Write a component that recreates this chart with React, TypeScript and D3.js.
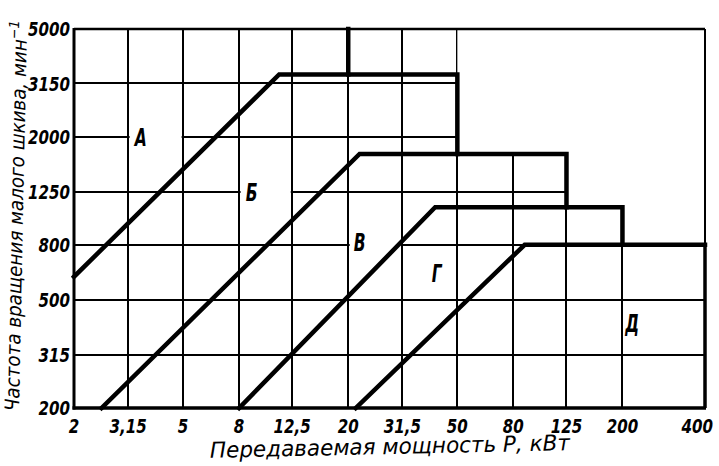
import React from "react";
import * as d3 from "d3";

// X axis: transmitted power P, kW (log scale)
const xTicks = [2, 3.15, 5, 8, 12.5, 20, 31.5, 50, 80, 125, 200, 400];
const xTickLabels = ["2", "3,15", "5", "8", "12,5", "20", "31,5", "50", "80", "125", "200", "400"];
// Y axis: small pulley speed, min^-1 (log scale)
const yTicks = [200, 315, 500, 800, 1250, 2000, 3150, 5000];
const yTickLabels = ["200", "315", "500", "800", "1250", "2000", "3150", "5000"];

// Boundary polylines between belt sections [P, n]
const boundaryAB: [number, number][] = [[2, 610], [11.2, 3400], [50, 3400], [50, 1730]];
const boundaryBV: [number, number][] = [[2.52, 200], [22, 1730], [125, 1730], [125, 1100]];
const boundaryVG: [number, number][] = [[8, 200], [41.5, 1100], [200, 1100], [200, 800]];
const boundaryGD: [number, number][] = [[21.3, 200], [88, 800], [400, 800]];
const topDivider: [number, number][] = [[20, 5000], [20, 3400]];

// Area in which the grid is drawn
const gridArea: [number, number][] = [
  [2, 200], [2, 5000], [50, 5000], [50, 1730], [125, 1730], [125, 1100],
  [200, 1100], [200, 800], [400, 800], [400, 200],
];

// Section labels
const sectionNames = ["А", "Б", "В", "Г", "Д"];
const sectionP = [3.5, 8.9, 22, 42, 217];
const sectionN = [2000, 1250, 815, 626, 410];

const W = 719;
const H = 466;

export default function App() {
  const x = d3.scaleLog().domain([2, 400]).range([74, 705]);
  const y = d3.scaleLog().domain([200, 5000]).range([408, 29]);
  const line = d3
    .line<[number, number]>()
    .x((d) => x(d[0]))
    .y((d) => y(d[1]));

  const font = "'DejaVu Sans Condensed', 'DejaVu Sans', sans-serif";
  const innerX = xTicks.slice(1, -1);
  const innerY = yTicks.slice(1, -1);

  const cellOf = (p: number) => {
    let lo = xTicks[0];
    let hi = xTicks[xTicks.length - 1];
    for (let i = 0; i < xTicks.length - 1; i++) {
      if (p >= xTicks[i] && p < xTicks[i + 1]) {
        lo = xTicks[i];
        hi = xTicks[i + 1];
      }
    }
    return [lo, hi];
  };

  return (
    <svg
      width={W}
      height={H}
      style={{ position: "absolute", left: 0, top: 0, background: "#fff" }}
    >
      <defs>
        <clipPath id="gridClip">
          <path d={line(gridArea) + "Z"} />
        </clipPath>
      </defs>
      <rect x={0} y={0} width={W} height={H} fill="#fff" />
      {/* grid */}
      <g clipPath="url(#gridClip)" stroke="#000" strokeWidth={2}>
        {innerX.map((v) => (
          <line key={"gx" + v} x1={Math.round(x(v))} x2={Math.round(x(v))} y1={y(200)} y2={y(5000)} />
        ))}
        {innerY.map((v) => (
          <line key={"gy" + v} x1={x(2)} x2={x(400)} y1={Math.round(y(v))} y2={Math.round(y(v))} />
        ))}
      </g>
      {/* gaps behind labels */}
      {sectionNames.map((s, i) => {
        const [lo, hi] = cellOf(sectionP[i]);
        return (
          <rect
            key={"bg" + s}
            x={x(lo) + 1.5}
            width={x(hi) - x(lo) - 3}
            y={y(sectionN[i]) - 4}
            height={8}
            fill="#fff"
          />
        );
      })}
      {/* frame */}
      <line x1={x(2)} x2={x(400)} y1={y(5000)} y2={y(5000)} stroke="#000" strokeWidth={2.5} />
      <line x1={x(400)} x2={x(400)} y1={y(5000)} y2={y(200)} stroke="#000" strokeWidth={2} />
      <line x1={x(400)} x2={x(400)} y1={y(800)} y2={y(200)} stroke="#000" strokeWidth={3.5} />
      <line x1={x(2)} x2={x(2)} y1={y(5000) - 1} y2={y(200) + 1.5} stroke="#000" strokeWidth={3} />
      <line x1={x(2) - 1.5} x2={x(400) + 1} y1={y(200)} y2={y(200)} stroke="#000" strokeWidth={3.5} />
      {/* boundaries */}
      <g fill="none" stroke="#000" strokeWidth={4.5} strokeLinejoin="miter" strokeLinecap="square">
        <path d={line(boundaryAB) || ""} />
        <path d={line(boundaryBV) || ""} />
        <path d={line(boundaryVG) || ""} />
        <path d={line(boundaryGD) || ""} />
        <path d={line(topDivider) || ""} />
      </g>
      {/* section labels */}
      {sectionNames.map((s, i) => (
        <text
          key={"lbl" + s}
          x={x(sectionP[i])}
          y={y(sectionN[i])}
          dy="0.36em"
          textAnchor="middle"
          fontFamily={font}
          fontStyle="italic"
          fontWeight="bold"
          fontSize={24}
          transform={`translate(${x(sectionP[i])},0) scale(0.72,1) translate(${-x(sectionP[i])},0)`}
        >
          {s}
        </text>
      ))}
      {/* y tick labels */}
      {yTicks.map((v, i) => (
        <text
          key={"yt" + v}
          x={70}
          y={y(v)}
          dy="0.36em"
          textAnchor="end"
          fontFamily={font}
          fontStyle="italic"
          fontWeight="bold"
          fontSize={20}
          transform={`translate(70,0) scale(0.84,1) translate(-70,0)`}
        >
          {yTickLabels[i]}
        </text>
      ))}
      {/* x tick labels */}
      {xTicks.map((v, i) => {
        const last = i === xTicks.length - 1;
        const px = last ? x(v) + 8 : x(v);
        return (
          <text
            key={"xt" + v}
            x={px}
            y={433}
            textAnchor={last ? "end" : "middle"}
            fontFamily={font}
            fontStyle="italic"
            fontWeight="bold"
            fontSize={20}
            transform={`translate(${px},0) scale(0.84,1) translate(${-px},0)`}
          >
            {xTickLabels[i]}
          </text>
        );
      })}
      {/* axis titles */}
      <text
        x={390}
        y={454}
        textAnchor="middle"
        fontFamily={font}
        fontStyle="italic"
        fontSize={22}
        textLength={360}
        lengthAdjust="spacingAndGlyphs"
        transform="rotate(-1.2,390,454)"
      >
        Передаваемая  мощность  Р, кВт
      </text>
      <text
        x={0}
        y={0}
        textAnchor="middle"
        fontFamily={font}
        fontStyle="italic"
        fontSize={20}
        transform="translate(23,216) rotate(-88.8)"
      >
        <tspan textLength={372} lengthAdjust="spacingAndGlyphs">Частота вращения малого шкива, мин</tspan>
        <tspan dy={-8} fontSize={14}>−1</tspan>
      </text>
    </svg>
  );
}
